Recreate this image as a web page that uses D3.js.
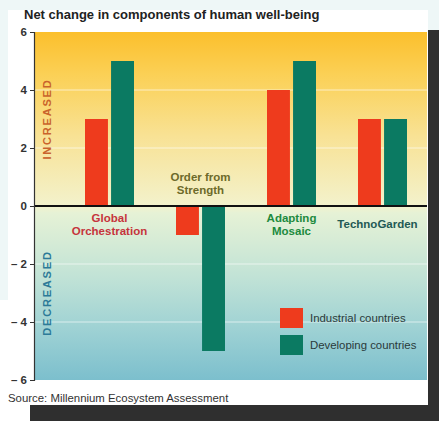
<!DOCTYPE html>
<html>
<head>
<meta charset="utf-8">
<script src="https://cdn.jsdelivr.net/npm/d3@7"></script>
<style>
  html, body { margin: 0; padding: 0; background: #eef7f7; }
  svg { display: block; font-family: "Liberation Sans", Arial, Helvetica, sans-serif; }
</style>
</head>
<body>
<svg id="chart" width="439" height="421"></svg>
<script>
// ---- data ----
const categories = ["Global Orchestration", "Order from Strength", "Adapting Mosaic", "TechnoGarden"];
const categoryLines = [["Global", "Orchestration"], ["Order from", "Strength"], ["Adapting", "Mosaic"], ["TechnoGarden"]];
const series = ["Industrial countries", "Developing countries"];
const industrial = [3, -1, 4, 3];
const developing = [5, -5, 5, 3];
const yTicks = [6, 4, 2, 0, -2, -4, -6];
const gridTicks = [4, 2, -2, -4];
const title = "Net change in components of human well-being";
const source = "Source: Millennium Ecosystem Assessment";

// ---- styles ----
const seriesColors = ["#ee3b1d", "#0b7a62"];
const labelColors = ["#c6343c", "#6d6a2a", "#208a3e", "#1f5954"];

const svg = d3.select("#chart");

// frame / background pieces
svg.append("rect").attr("x", 8).attr("y", 10).attr("width", 420).attr("height", 395).attr("fill", "#ffffff");
svg.append("rect").attr("x", 0).attr("y", 300).attr("width", 30).attr("height", 121).attr("fill", "#ffffff");
svg.append("rect").attr("x", 428).attr("y", 30).attr("width", 11).attr("height", 391).attr("fill", "#2f2f2f");
svg.append("rect").attr("x", 30).attr("y", 405).attr("width", 409).attr("height", 16).attr("fill", "#2f2f2f");

const plot = { left: 34, right: 427, top: 32, bottom: 380 };

const y = d3.scaleLinear().domain([-6, 6]).range([plot.bottom, plot.top]);
const x0 = d3.scaleBand().domain(categories).range([64, 428]).paddingInner(0).paddingOuter(0);
const x1 = d3.scaleBand().domain(series).range([-24.5, 24.5]).paddingInner(0.12);

// gradient background
const defs = svg.append("defs");
const grad = defs.append("linearGradient").attr("id", "bg").attr("x1", 0).attr("y1", 0).attr("x2", 0).attr("y2", 1);
[
  [0, "#fbbf2c"], [0.12, "#fbd055"], [0.3, "#f8e295"], [0.5, "#f3f2cc"],
  [0.52, "#e6f2d6"], [0.7, "#c2e3d6"], [0.85, "#9fd2d4"], [1, "#7cbfcd"]
].forEach(([o, c]) => grad.append("stop").attr("offset", o).attr("stop-color", c));

svg.append("rect")
  .attr("x", plot.left).attr("y", plot.top)
  .attr("width", plot.right - plot.left).attr("height", plot.bottom - plot.top)
  .attr("fill", "url(#bg)");

// gridlines
svg.append("g").selectAll("line").data(gridTicks).join("line")
  .attr("x1", plot.left).attr("x2", plot.right)
  .attr("y1", d => y(d)).attr("y2", d => y(d))
  .attr("stroke", "#ffffff").attr("stroke-opacity", 0.6).attr("stroke-width", 1);

// bars
const groups = svg.append("g").selectAll("g").data(categories).join("g")
  .attr("transform", c => `translate(${x0(c) + x0.bandwidth() / 2},0)`);
groups.selectAll("rect").data((c, i) => [
  { s: series[0], v: industrial[i], color: seriesColors[0] },
  { s: series[1], v: developing[i], color: seriesColors[1] }
]).join("rect")
  .attr("x", d => x1(d.s))
  .attr("width", x1.bandwidth())
  .attr("y", d => y(Math.max(0, d.v)))
  .attr("height", d => Math.abs(y(d.v) - y(0)))
  .attr("fill", d => d.color);

// zero line
svg.append("line")
  .attr("x1", plot.left).attr("x2", plot.right)
  .attr("y1", y(0)).attr("y2", y(0))
  .attr("stroke", "#111").attr("stroke-width", 2);

// y axis
const yAxis = d3.axisLeft(y).tickValues(yTicks).tickSize(4).tickPadding(3)
  .tickFormat(d => d < 0 ? "\u2013 " + Math.abs(d) : String(d));
const ya = svg.append("g").attr("transform", `translate(${plot.left},0)`).call(yAxis);
ya.select(".domain").attr("stroke", "#333").attr("stroke-width", 1.2);
ya.selectAll(".tick line").attr("stroke", "#333");
ya.selectAll(".tick text").attr("fill", "#333").attr("font-size", 11.5).attr("font-weight", "bold")
  .attr("font-family", "'Liberation Sans', Arial, sans-serif");

// INCREASED / DECREASED
svg.append("text").text("INCREASED")
  .attr("transform", `translate(51,${y(3)}) rotate(-90)`)
  .attr("text-anchor", "middle").attr("font-size", 11).attr("font-weight", "bold")
  .attr("letter-spacing", 1.8).attr("fill", "#c9632c");
svg.append("text").text("DECREASED")
  .attr("transform", `translate(51,${y(-3)}) rotate(-90)`)
  .attr("text-anchor", "middle").attr("font-size", 11).attr("font-weight", "bold")
  .attr("letter-spacing", 1.8).attr("fill", "#2c7a98");

// category labels
const labelG = svg.append("g");
categories.forEach((c, i) => {
  const lines = categoryLines[i];
  const cx = x0(c) + x0.bandwidth() / 2 + (lines.length === 1 ? -5 : 0);
  const above = Math.min(industrial[i], developing[i]) < 0;
  let startY;
  if (above) startY = y(0) - 25;
  else if (lines.length === 1) startY = y(0) + 22;
  else startY = y(0) + 16;
  lines.forEach((ln, j) => {
    labelG.append("text").text(ln)
      .attr("x", cx).attr("y", startY + j * 13)
      .attr("text-anchor", "middle").attr("font-size", 11.5).attr("font-weight", "bold")
      .attr("fill", labelColors[i]);
  });
});

// legend
const legend = svg.append("g").attr("transform", "translate(280,308)");
series.forEach((s, i) => {
  const g = legend.append("g").attr("transform", `translate(0,${i * 27})`);
  g.append("rect").attr("width", 23).attr("height", 20).attr("fill", seriesColors[i]);
  g.append("text").text(s).attr("x", 30).attr("y", 14)
    .attr("font-size", 11.4).attr("fill", "#2a3a3a");
});

// title & source
svg.append("text").text(title).attr("x", 24).attr("y", 19)
  .attr("font-size", 13).attr("font-weight", "bold").attr("fill", "#222");
svg.append("text").text(source).attr("x", 8).attr("y", 402)
  .attr("font-size", 11.4).attr("fill", "#333");
</script>
</body>
</html>
